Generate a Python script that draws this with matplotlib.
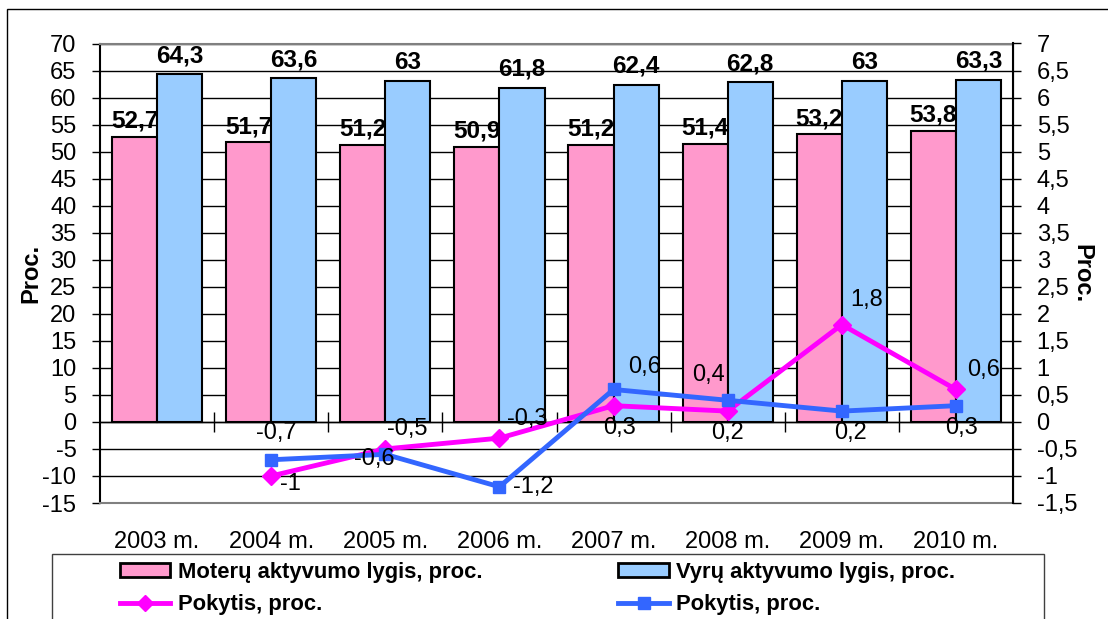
import matplotlib
import numpy as np

matplotlib.use('Agg')
from matplotlib import pyplot as plt
from matplotlib.patches import Rectangle
from matplotlib.lines import Line2D
from matplotlib.ticker import FuncFormatter

plt.rcParams['font.family'] = ['Liberation Sans', 'DejaVu Sans']
plt.rcParams['axes.unicode_minus'] = False

years = ["2003 m.", "2004 m.", "2005 m.", "2006 m.", "2007 m.", "2008 m.", "2009 m.", "2010 m."]
women = [52.7, 51.7, 51.2, 50.9, 51.2, 51.4, 53.2, 53.8]
men = [64.3, 63.6, 63.0, 61.8, 62.4, 62.8, 63.0, 63.3]
women_chg = [np.nan, -1.0, -0.5, -0.3, 0.3, 0.2, 1.8, 0.6]
men_chg = [np.nan, -0.7, -0.6, -1.2, 0.6, 0.4, 0.2, 0.3]

# label offsets (points) for the line labels
women_off = [None, (14, -6), (16, 14), (20, 14), (4, -16), (0, -16), (18, 18), (20, 14)]
men_off = [None, (4, 19), (-8, -3), (24, 0), (22, 16), (-14, 18), (6, -16), (4, -16)]

PINK = "#FF99CC"
BLUE = "#99CCFF"
MAG = "#FF00FF"
LBLUE = "#3366FF"
FS = 17

def comma(v, pos=None):
    s = ("%g" % v).replace(".", ",")
    return s

W, H = 1108, 619
fig = plt.figure(figsize=(W / 100, H / 100), dpi=100)
ax = fig.add_axes([100 / W, 1 - 503 / H, 913 / W, 459.5 / H])

x = np.arange(len(years))
bw = 0.395
b1 = ax.bar(x - bw / 2, women, bw, color=PINK, edgecolor="black", lw=1.5, zorder=3)
b2 = ax.bar(x + bw / 2, men, bw, color=BLUE, edgecolor="black", lw=1.5, zorder=3)

for i in range(len(years)):
    ax.annotate(comma(women[i]), (x[i] - bw / 2, women[i]), xytext=(0, 3), textcoords="offset points",
                ha="center", va="bottom", fontsize=17.5, fontweight="bold", zorder=5)
    ax.annotate(comma(men[i]), (x[i] + bw / 2, men[i]), xytext=(0, 5), textcoords="offset points",
                ha="center", va="bottom", fontsize=17.5, fontweight="bold", zorder=5)

ax.set_xlim(-0.5, len(years) - 0.5)
ax.set_ylim(-15, 70)
ax.set_yticks(np.arange(-15, 71, 5))
ax.yaxis.grid(True, color="black", lw=1)
ax.set_axisbelow(True)
ax.set_xticks(x)
ax.set_xticklabels(years)
ax.tick_params(axis="x", length=0, pad=20, labelsize=FS)
ax.tick_params(axis="y", direction="out", length=6, width=1, labelsize=FS, pad=11)
for s in ["top", "bottom"]:
    ax.spines[s].set_color("#808080")
    ax.spines[s].set_linewidth(1.5)
ax.spines["left"].set_linewidth(1.5)
ax.set_ylabel("Proc.", fontsize=17, fontweight="bold", labelpad=0)

# category tick marks on the zero line
sec = ax.secondary_xaxis(15 / 85)
sec.set_xticks(np.arange(0.5, len(years) - 1, 1.0))
sec.tick_params(direction="inout", length=14, width=1, labelbottom=False)
sec.spines["bottom"].set_linewidth(1)

ax2 = ax.twinx()
ax2.set_ylim(-1.5, 7)
ax2.set_yticks(np.arange(-1.5, 7.01, 0.5))
ax2.yaxis.set_major_formatter(FuncFormatter(comma))
ax2.tick_params(axis="y", direction="out", length=6, width=1, labelsize=FS, pad=11)
for s in ["top", "bottom", "left"]:
    ax2.spines[s].set_visible(False)
ax2.spines["right"].set_linewidth(1.5)
ax2.set_ylabel("Proc.", fontsize=17, fontweight="bold", rotation=-90, labelpad=12)

ax2.plot(x, women_chg, color=MAG, lw=3.5, marker="D", ms=9, zorder=4)
ax2.plot(x, men_chg, color=LBLUE, lw=3.5, marker="s", ms=9, zorder=4)
for i in range(1, len(years)):
    ax2.annotate(comma(women_chg[i]), (x[i], women_chg[i]), xytext=women_off[i], textcoords="offset points",
                 ha="center", va="center", fontsize=FS, zorder=6)
    ax2.annotate(comma(men_chg[i]), (x[i], men_chg[i]), xytext=men_off[i], textcoords="offset points",
                 ha="center", va="center", fontsize=FS, zorder=6)

# outer frame and legend frame
fig.patches.append(Rectangle((7 / W, -0.1), 1.2, 1 - 9 / H + 0.1, transform=fig.transFigure,
                             fill=False, edgecolor="black", lw=1))
fig.patches.append(Rectangle((52 / W, -0.1), 992 / W, 1 - 554 / H + 0.1, transform=fig.transFigure,
                             fill=False, edgecolor="#404040", lw=1))

handles = [
    Rectangle((0, 0), 1, 1, facecolor=PINK, edgecolor="black", lw=2),
    Line2D([], [], color=MAG, lw=3.5, marker="D", ms=8),
    Rectangle((0, 0), 1, 1, facecolor=BLUE, edgecolor="black", lw=2),
    Line2D([], [], color=LBLUE, lw=3.5, marker="s", ms=8),
]
labels = ["Moterų aktyvumo lygis, proc.", "Pokytis, proc.",
          "Vyrų aktyvumo lygis, proc.", "Pokytis, proc."]
fig.legend(handles, labels, ncol=2, loc="upper left", bbox_to_anchor=(120 / W, 1 - 562 / H),
           frameon=False, borderpad=0, borderaxespad=0, handlelength=2.3, handleheight=0.62,
           handletextpad=0.33, columnspacing=6.2, labelspacing=0.5,
           prop={"size": 15.8, "weight": "bold"})

fig.savefig("out.png", dpi=100)
